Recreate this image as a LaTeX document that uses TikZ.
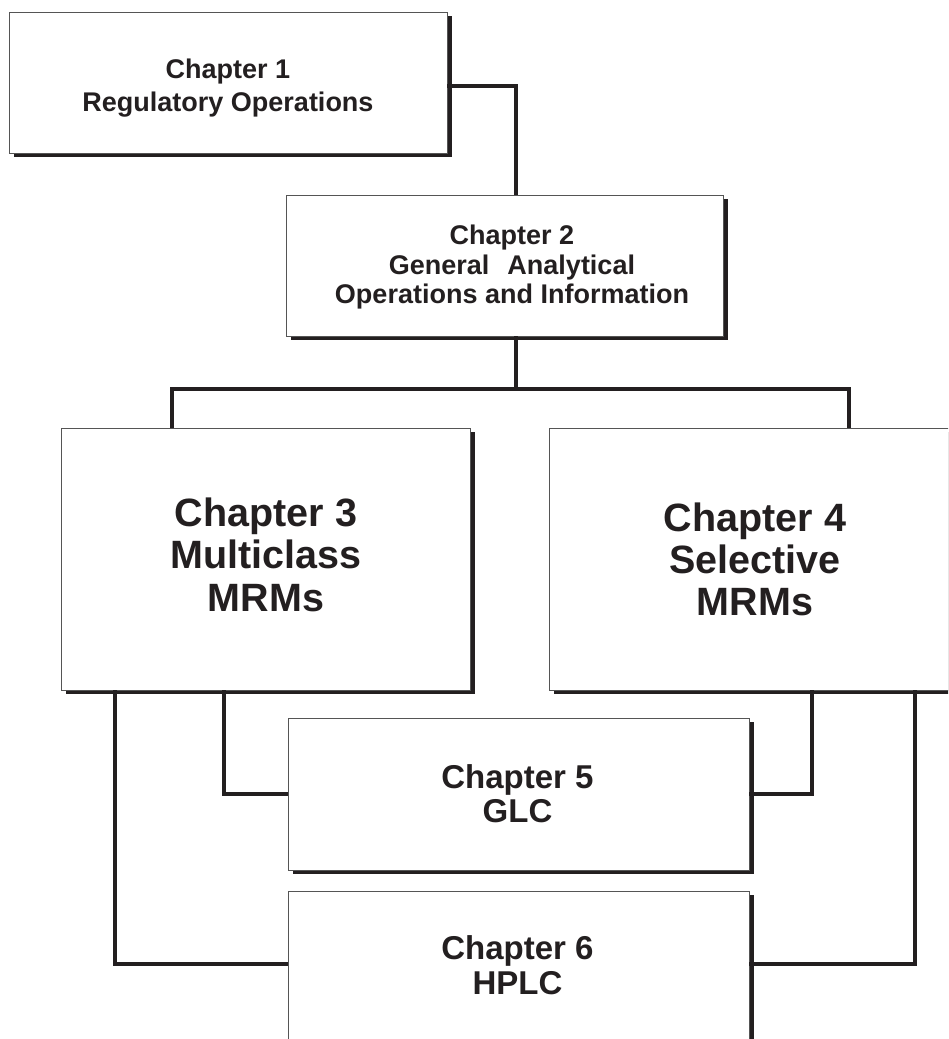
\documentclass[tikz,border=0pt]{standalone}
\usepackage{fontspec}
\setmainfont{Liberation Sans}
\usetikzlibrary{shadows}
\definecolor{ink}{HTML}{231F20}
\definecolor{edge}{HTML}{555555}
\begin{document}
\begin{tikzpicture}[x=1pt,y=-1pt,
  box/.style={draw=edge, line width=1pt, fill=white, inner sep=0pt, outer sep=0pt,
    general shadow={fill=ink, shadow xshift=5pt, shadow yshift=-4pt}},
  conn/.style={draw=ink, line width=4.5pt, line join=miter},
  txt/.style={align=center, inner sep=0pt, outer sep=0pt, text=ink},
  smalltxt/.style={txt, font=\bfseries\fontsize{27pt}{33pt}\selectfont},
  bigtxt/.style={txt, font=\bfseries\fontsize{39.5pt}{42.5pt}\selectfont},
  midtxt/.style={txt, font=\bfseries\fontsize{33pt}{34.5pt}\selectfont}]
\useasboundingbox (0,0) rectangle (948,1039);
\clip (0,0) rectangle (948,1039);
\fill[white] (0,0) rectangle (948,1039);
% boxes
\node[box, minimum width=438pt, minimum height=141pt] (b1) at (228,82.5) {};
\node[box, minimum width=437pt, minimum height=141pt] (b2) at (504.5,265.5) {};
\node[box, minimum width=409pt, minimum height=262pt] (b3) at (265.5,559) {};
\node[box, minimum width=440pt, minimum height=262pt] (b4) at (769,559) {};
\node[box, minimum width=461pt, minimum height=152pt] (b5) at (518.5,794) {};
\node[box, minimum width=461pt, minimum height=170pt] (b6) at (518.5,976) {};
% texts
\node[smalltxt] (t1) at (228,88.2) {Chapter 1\\Regulatory Operations};
\node[smalltxt, font=\bfseries\fontsize{27pt}{29.5pt}\selectfont] (t2) at (512,267.5)
  {Chapter 2\\General\hspace{18pt}Analytical\\Operations and Information};
\node[bigtxt] (t3) at (266,554.8) {Chapter 3\\Multiclass\\MRMs};
\node[bigtxt, font=\bfseries\fontsize{39.5pt}{42pt}\selectfont] (t4) at (755,559.5) {Chapter 4\\Selective\\MRMs};
\node[midtxt] (t5) at (517.5,793.5) {Chapter 5\\GLC};
\node[midtxt, font=\bfseries\fontsize{33pt}{35pt}\selectfont] (t6) at (517.5,965.5) {Chapter 6\\HPLC};
% connectors
\coordinate (j2) at (516,389);
\coordinate (l6) at (288,964);
\coordinate (r6) at (749,964);
\draw[conn] ([yshift=-3.5pt]b1.east) -| ([xshift=11.5pt]b2.north);
\draw[conn] ([xshift=11.5pt]b2.south) -- (j2);
\draw[conn] ([xshift=-93.5pt]b3.north) |- (j2) -| ([xshift=80pt]b4.north);
\draw[conn] ([xshift=-41.5pt]b3.south) |- (b5.west);
\draw[conn] ([xshift=43pt]b4.south) |- (b5.east);
\draw[conn] ([xshift=-150.5pt]b3.south) |- (l6);
\draw[conn] ([xshift=146pt]b4.south) |- (r6);
\end{tikzpicture}
\end{document}
